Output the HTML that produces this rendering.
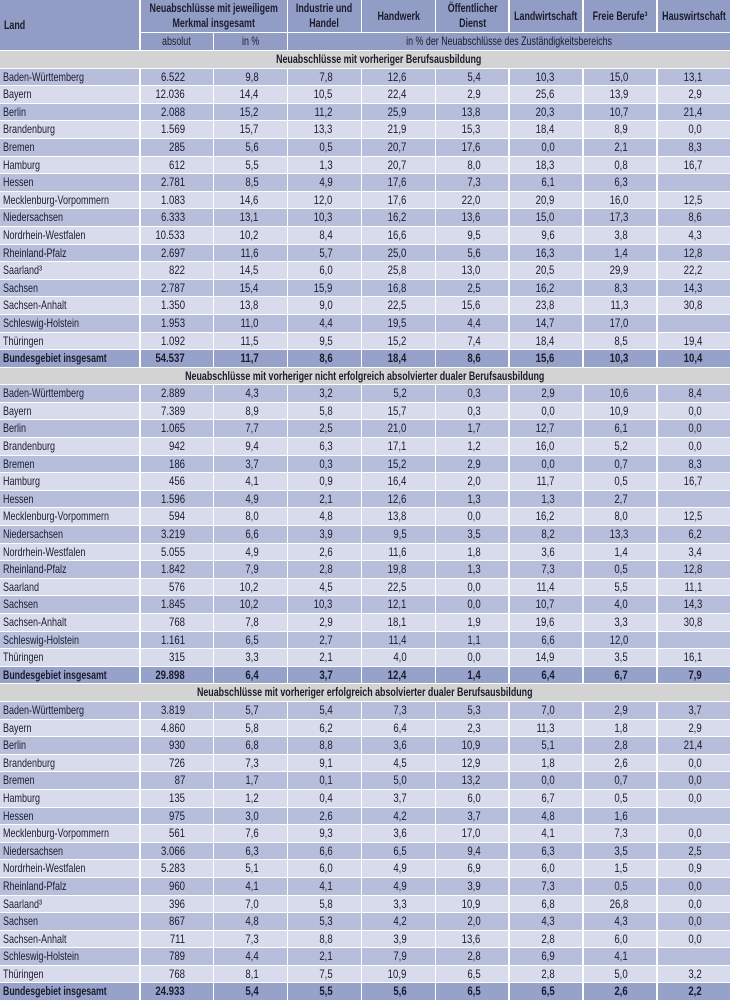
<!DOCTYPE html>
<html><head><meta charset="utf-8">
<style>
html,body{margin:0;padding:0;background:#fff;}
body{width:730px;height:1002px;overflow:hidden;position:relative;font-family:"Liberation Sans",Arial,sans-serif;color:#1b1b2a;}
.t{position:absolute;left:0;top:0;width:730px;height:1002px;display:grid;
grid-template-columns:139px repeat(8,72.375px);column-gap:1.5px;row-gap:1px;
grid-template-rows:32px 17px repeat(54,16.6px);background:#fff;}
.t>div,.r>div{box-sizing:border-box;}
.h{background:#929dc6;font-weight:bold;font-size:12px;line-height:15px;display:flex;align-items:center;justify-content:center;text-align:center;white-space:nowrap;}
.h span{display:inline-block;transform:scaleX(0.74);transform-origin:center center;}
.h.land{justify-content:flex-start;padding-left:4px;}
.h.land span{transform-origin:left center;}
.h2{font-weight:normal;}
.sec{grid-column:1/-1;background:#d3d3d3;font-weight:bold;font-size:12px;line-height:16.6px;text-align:center;white-space:nowrap;}
.sec span{display:inline-block;transform:scaleX(0.74);transform-origin:center center;}
.r{display:contents;}
.r>div{font-size:12px;line-height:16.6px;text-align:right;padding-right:28px;white-space:nowrap;}
.r>div>span{display:inline-block;transform:scaleX(0.8);transform-origin:right center;}
.r>div.lab{text-align:left;padding-left:3px;padding-right:0;}
.r>div.lab>span{transform:scaleX(0.75);transform-origin:left center;}
.r.d>div{background:#b7bedb;}
.r.l>div{background:#d8dbec;}
.r.s>div{background:#97a2cb;font-weight:bold;}
.r.s>div.lab>span{transform:scaleX(0.73);}
</style></head><body>
<div class="t">
<div class="h land" style="grid-column:1;grid-row:1/3"><span>Land</span></div>
<div class="h" style="grid-column:2/4;grid-row:1"><span>Neuabschlüsse mit jeweiligem<br>Merkmal insgesamt</span></div>
<div class="h" style="grid-column:4;grid-row:1"><span>Industrie und<br>Handel</span></div>
<div class="h" style="grid-column:5;grid-row:1"><span>Handwerk</span></div>
<div class="h" style="grid-column:6;grid-row:1"><span>Öffentlicher<br>Dienst</span></div>
<div class="h" style="grid-column:7;grid-row:1"><span>Landwirtschaft</span></div>
<div class="h" style="grid-column:8;grid-row:1"><span>Freie Berufe³</span></div>
<div class="h" style="grid-column:9;grid-row:1"><span>Hauswirtschaft</span></div>
<div class="h h2" style="grid-column:2;grid-row:2"><span>absolut</span></div>
<div class="h h2" style="grid-column:3;grid-row:2"><span>in %</span></div>
<div class="h h2" style="grid-column:4/10;grid-row:2"><span>in % der Neuabschlüsse des Zuständigkeitsbereichs</span></div>

<div class="sec" style="padding-left:27px"><span>Neuabschlüsse mit vorheriger Berufsausbildung</span></div>
<div class="r d"><div class="lab"><span>Baden-Württemberg</span></div><div><span>6.522</span></div><div><span>9,8</span></div><div><span>7,8</span></div><div><span>12,6</span></div><div><span>5,4</span></div><div><span>10,3</span></div><div><span>15,0</span></div><div><span>13,1</span></div></div>
<div class="r l"><div class="lab"><span>Bayern</span></div><div><span>12.036</span></div><div><span>14,4</span></div><div><span>10,5</span></div><div><span>22,4</span></div><div><span>2,9</span></div><div><span>25,6</span></div><div><span>13,9</span></div><div><span>2,9</span></div></div>
<div class="r d"><div class="lab"><span>Berlin</span></div><div><span>2.088</span></div><div><span>15,2</span></div><div><span>11,2</span></div><div><span>25,9</span></div><div><span>13,8</span></div><div><span>20,3</span></div><div><span>10,7</span></div><div><span>21,4</span></div></div>
<div class="r l"><div class="lab"><span>Brandenburg</span></div><div><span>1.569</span></div><div><span>15,7</span></div><div><span>13,3</span></div><div><span>21,9</span></div><div><span>15,3</span></div><div><span>18,4</span></div><div><span>8,9</span></div><div><span>0,0</span></div></div>
<div class="r d"><div class="lab"><span>Bremen</span></div><div><span>285</span></div><div><span>5,6</span></div><div><span>0,5</span></div><div><span>20,7</span></div><div><span>17,6</span></div><div><span>0,0</span></div><div><span>2,1</span></div><div><span>8,3</span></div></div>
<div class="r l"><div class="lab"><span>Hamburg</span></div><div><span>612</span></div><div><span>5,5</span></div><div><span>1,3</span></div><div><span>20,7</span></div><div><span>8,0</span></div><div><span>18,3</span></div><div><span>0,8</span></div><div><span>16,7</span></div></div>
<div class="r d"><div class="lab"><span>Hessen</span></div><div><span>2.781</span></div><div><span>8,5</span></div><div><span>4,9</span></div><div><span>17,6</span></div><div><span>7,3</span></div><div><span>6,1</span></div><div><span>6,3</span></div><div></div></div>
<div class="r l"><div class="lab"><span>Mecklenburg-Vorpommern</span></div><div><span>1.083</span></div><div><span>14,6</span></div><div><span>12,0</span></div><div><span>17,6</span></div><div><span>22,0</span></div><div><span>20,9</span></div><div><span>16,0</span></div><div><span>12,5</span></div></div>
<div class="r d"><div class="lab"><span>Niedersachsen</span></div><div><span>6.333</span></div><div><span>13,1</span></div><div><span>10,3</span></div><div><span>16,2</span></div><div><span>13,6</span></div><div><span>15,0</span></div><div><span>17,3</span></div><div><span>8,6</span></div></div>
<div class="r l"><div class="lab"><span>Nordrhein-Westfalen</span></div><div><span>10.533</span></div><div><span>10,2</span></div><div><span>8,4</span></div><div><span>16,6</span></div><div><span>9,5</span></div><div><span>9,6</span></div><div><span>3,8</span></div><div><span>4,3</span></div></div>
<div class="r d"><div class="lab"><span>Rheinland-Pfalz</span></div><div><span>2.697</span></div><div><span>11,6</span></div><div><span>5,7</span></div><div><span>25,0</span></div><div><span>5,6</span></div><div><span>16,3</span></div><div><span>1,4</span></div><div><span>12,8</span></div></div>
<div class="r l"><div class="lab"><span>Saarland³</span></div><div><span>822</span></div><div><span>14,5</span></div><div><span>6,0</span></div><div><span>25,8</span></div><div><span>13,0</span></div><div><span>20,5</span></div><div><span>29,9</span></div><div><span>22,2</span></div></div>
<div class="r d"><div class="lab"><span>Sachsen</span></div><div><span>2.787</span></div><div><span>15,4</span></div><div><span>15,9</span></div><div><span>16,8</span></div><div><span>2,5</span></div><div><span>16,2</span></div><div><span>8,3</span></div><div><span>14,3</span></div></div>
<div class="r l"><div class="lab"><span>Sachsen-Anhalt</span></div><div><span>1.350</span></div><div><span>13,8</span></div><div><span>9,0</span></div><div><span>22,5</span></div><div><span>15,6</span></div><div><span>23,8</span></div><div><span>11,3</span></div><div><span>30,8</span></div></div>
<div class="r d"><div class="lab"><span>Schleswig-Holstein</span></div><div><span>1.953</span></div><div><span>11,0</span></div><div><span>4,4</span></div><div><span>19,5</span></div><div><span>4,4</span></div><div><span>14,7</span></div><div><span>17,0</span></div><div></div></div>
<div class="r l"><div class="lab"><span>Thüringen</span></div><div><span>1.092</span></div><div><span>11,5</span></div><div><span>9,5</span></div><div><span>15,2</span></div><div><span>7,4</span></div><div><span>18,4</span></div><div><span>8,5</span></div><div><span>19,4</span></div></div>
<div class="r s"><div class="lab"><span>Bundesgebiet insgesamt</span></div><div><span>54.537</span></div><div><span>11,7</span></div><div><span>8,6</span></div><div><span>18,4</span></div><div><span>8,6</span></div><div><span>15,6</span></div><div><span>10,3</span></div><div><span>10,4</span></div></div>

<div class="sec"><span>Neuabschlüsse mit vorheriger nicht erfolgreich absolvierter dualer Berufsausbildung</span></div>
<div class="r d"><div class="lab"><span>Baden-Württemberg</span></div><div><span>2.889</span></div><div><span>4,3</span></div><div><span>3,2</span></div><div><span>5,2</span></div><div><span>0,3</span></div><div><span>2,9</span></div><div><span>10,6</span></div><div><span>8,4</span></div></div>
<div class="r l"><div class="lab"><span>Bayern</span></div><div><span>7.389</span></div><div><span>8,9</span></div><div><span>5,8</span></div><div><span>15,7</span></div><div><span>0,3</span></div><div><span>0,0</span></div><div><span>10,9</span></div><div><span>0,0</span></div></div>
<div class="r d"><div class="lab"><span>Berlin</span></div><div><span>1.065</span></div><div><span>7,7</span></div><div><span>2,5</span></div><div><span>21,0</span></div><div><span>1,7</span></div><div><span>12,7</span></div><div><span>6,1</span></div><div><span>0,0</span></div></div>
<div class="r l"><div class="lab"><span>Brandenburg</span></div><div><span>942</span></div><div><span>9,4</span></div><div><span>6,3</span></div><div><span>17,1</span></div><div><span>1,2</span></div><div><span>16,0</span></div><div><span>5,2</span></div><div><span>0,0</span></div></div>
<div class="r d"><div class="lab"><span>Bremen</span></div><div><span>186</span></div><div><span>3,7</span></div><div><span>0,3</span></div><div><span>15,2</span></div><div><span>2,9</span></div><div><span>0,0</span></div><div><span>0,7</span></div><div><span>8,3</span></div></div>
<div class="r l"><div class="lab"><span>Hamburg</span></div><div><span>456</span></div><div><span>4,1</span></div><div><span>0,9</span></div><div><span>16,4</span></div><div><span>2,0</span></div><div><span>11,7</span></div><div><span>0,5</span></div><div><span>16,7</span></div></div>
<div class="r d"><div class="lab"><span>Hessen</span></div><div><span>1.596</span></div><div><span>4,9</span></div><div><span>2,1</span></div><div><span>12,6</span></div><div><span>1,3</span></div><div><span>1,3</span></div><div><span>2,7</span></div><div></div></div>
<div class="r l"><div class="lab"><span>Mecklenburg-Vorpommern</span></div><div><span>594</span></div><div><span>8,0</span></div><div><span>4,8</span></div><div><span>13,8</span></div><div><span>0,0</span></div><div><span>16,2</span></div><div><span>8,0</span></div><div><span>12,5</span></div></div>
<div class="r d"><div class="lab"><span>Niedersachsen</span></div><div><span>3.219</span></div><div><span>6,6</span></div><div><span>3,9</span></div><div><span>9,5</span></div><div><span>3,5</span></div><div><span>8,2</span></div><div><span>13,3</span></div><div><span>6,2</span></div></div>
<div class="r l"><div class="lab"><span>Nordrhein-Westfalen</span></div><div><span>5.055</span></div><div><span>4,9</span></div><div><span>2,6</span></div><div><span>11,6</span></div><div><span>1,8</span></div><div><span>3,6</span></div><div><span>1,4</span></div><div><span>3,4</span></div></div>
<div class="r d"><div class="lab"><span>Rheinland-Pfalz</span></div><div><span>1.842</span></div><div><span>7,9</span></div><div><span>2,8</span></div><div><span>19,8</span></div><div><span>1,3</span></div><div><span>7,3</span></div><div><span>0,5</span></div><div><span>12,8</span></div></div>
<div class="r l"><div class="lab"><span>Saarland</span></div><div><span>576</span></div><div><span>10,2</span></div><div><span>4,5</span></div><div><span>22,5</span></div><div><span>0,0</span></div><div><span>11,4</span></div><div><span>5,5</span></div><div><span>11,1</span></div></div>
<div class="r d"><div class="lab"><span>Sachsen</span></div><div><span>1.845</span></div><div><span>10,2</span></div><div><span>10,3</span></div><div><span>12,1</span></div><div><span>0,0</span></div><div><span>10,7</span></div><div><span>4,0</span></div><div><span>14,3</span></div></div>
<div class="r l"><div class="lab"><span>Sachsen-Anhalt</span></div><div><span>768</span></div><div><span>7,8</span></div><div><span>2,9</span></div><div><span>18,1</span></div><div><span>1,9</span></div><div><span>19,6</span></div><div><span>3,3</span></div><div><span>30,8</span></div></div>
<div class="r d"><div class="lab"><span>Schleswig-Holstein</span></div><div><span>1.161</span></div><div><span>6,5</span></div><div><span>2,7</span></div><div><span>11,4</span></div><div><span>1,1</span></div><div><span>6,6</span></div><div><span>12,0</span></div><div></div></div>
<div class="r l"><div class="lab"><span>Thüringen</span></div><div><span>315</span></div><div><span>3,3</span></div><div><span>2,1</span></div><div><span>4,0</span></div><div><span>0,0</span></div><div><span>14,9</span></div><div><span>3,5</span></div><div><span>16,1</span></div></div>
<div class="r s"><div class="lab"><span>Bundesgebiet insgesamt</span></div><div><span>29.898</span></div><div><span>6,4</span></div><div><span>3,7</span></div><div><span>12,4</span></div><div><span>1,4</span></div><div><span>6,4</span></div><div><span>6,7</span></div><div><span>7,9</span></div></div>

<div class="sec"><span>Neuabschlüsse mit vorheriger erfolgreich absolvierter dualer Berufsausbildung</span></div>
<div class="r d"><div class="lab"><span>Baden-Württemberg</span></div><div><span>3.819</span></div><div><span>5,7</span></div><div><span>5,4</span></div><div><span>7,3</span></div><div><span>5,3</span></div><div><span>7,0</span></div><div><span>2,9</span></div><div><span>3,7</span></div></div>
<div class="r l"><div class="lab"><span>Bayern</span></div><div><span>4.860</span></div><div><span>5,8</span></div><div><span>6,2</span></div><div><span>6,4</span></div><div><span>2,3</span></div><div><span>11,3</span></div><div><span>1,8</span></div><div><span>2,9</span></div></div>
<div class="r d"><div class="lab"><span>Berlin</span></div><div><span>930</span></div><div><span>6,8</span></div><div><span>8,8</span></div><div><span>3,6</span></div><div><span>10,9</span></div><div><span>5,1</span></div><div><span>2,8</span></div><div><span>21,4</span></div></div>
<div class="r l"><div class="lab"><span>Brandenburg</span></div><div><span>726</span></div><div><span>7,3</span></div><div><span>9,1</span></div><div><span>4,5</span></div><div><span>12,9</span></div><div><span>1,8</span></div><div><span>2,6</span></div><div><span>0,0</span></div></div>
<div class="r d"><div class="lab"><span>Bremen</span></div><div><span>87</span></div><div><span>1,7</span></div><div><span>0,1</span></div><div><span>5,0</span></div><div><span>13,2</span></div><div><span>0,0</span></div><div><span>0,7</span></div><div><span>0,0</span></div></div>
<div class="r l"><div class="lab"><span>Hamburg</span></div><div><span>135</span></div><div><span>1,2</span></div><div><span>0,4</span></div><div><span>3,7</span></div><div><span>6,0</span></div><div><span>6,7</span></div><div><span>0,5</span></div><div><span>0,0</span></div></div>
<div class="r d"><div class="lab"><span>Hessen</span></div><div><span>975</span></div><div><span>3,0</span></div><div><span>2,6</span></div><div><span>4,2</span></div><div><span>3,7</span></div><div><span>4,8</span></div><div><span>1,6</span></div><div></div></div>
<div class="r l"><div class="lab"><span>Mecklenburg-Vorpommern</span></div><div><span>561</span></div><div><span>7,6</span></div><div><span>9,3</span></div><div><span>3,6</span></div><div><span>17,0</span></div><div><span>4,1</span></div><div><span>7,3</span></div><div><span>0,0</span></div></div>
<div class="r d"><div class="lab"><span>Niedersachsen</span></div><div><span>3.066</span></div><div><span>6,3</span></div><div><span>6,6</span></div><div><span>6,5</span></div><div><span>9,4</span></div><div><span>6,3</span></div><div><span>3,5</span></div><div><span>2,5</span></div></div>
<div class="r l"><div class="lab"><span>Nordrhein-Westfalen</span></div><div><span>5.283</span></div><div><span>5,1</span></div><div><span>6,0</span></div><div><span>4,9</span></div><div><span>6,9</span></div><div><span>6,0</span></div><div><span>1,5</span></div><div><span>0,9</span></div></div>
<div class="r d"><div class="lab"><span>Rheinland-Pfalz</span></div><div><span>960</span></div><div><span>4,1</span></div><div><span>4,1</span></div><div><span>4,9</span></div><div><span>3,9</span></div><div><span>7,3</span></div><div><span>0,5</span></div><div><span>0,0</span></div></div>
<div class="r l"><div class="lab"><span>Saarland³</span></div><div><span>396</span></div><div><span>7,0</span></div><div><span>5,8</span></div><div><span>3,3</span></div><div><span>10,9</span></div><div><span>6,8</span></div><div><span>26,8</span></div><div><span>0,0</span></div></div>
<div class="r d"><div class="lab"><span>Sachsen</span></div><div><span>867</span></div><div><span>4,8</span></div><div><span>5,3</span></div><div><span>4,2</span></div><div><span>2,0</span></div><div><span>4,3</span></div><div><span>4,3</span></div><div><span>0,0</span></div></div>
<div class="r l"><div class="lab"><span>Sachsen-Anhalt</span></div><div><span>711</span></div><div><span>7,3</span></div><div><span>8,8</span></div><div><span>3,9</span></div><div><span>13,6</span></div><div><span>2,8</span></div><div><span>6,0</span></div><div><span>0,0</span></div></div>
<div class="r d"><div class="lab"><span>Schleswig-Holstein</span></div><div><span>789</span></div><div><span>4,4</span></div><div><span>2,1</span></div><div><span>7,9</span></div><div><span>2,8</span></div><div><span>6,9</span></div><div><span>4,1</span></div><div></div></div>
<div class="r l"><div class="lab"><span>Thüringen</span></div><div><span>768</span></div><div><span>8,1</span></div><div><span>7,5</span></div><div><span>10,9</span></div><div><span>6,5</span></div><div><span>2,8</span></div><div><span>5,0</span></div><div><span>3,2</span></div></div>
<div class="r s"><div class="lab"><span>Bundesgebiet insgesamt</span></div><div><span>24.933</span></div><div><span>5,4</span></div><div><span>5,5</span></div><div><span>5,6</span></div><div><span>6,5</span></div><div><span>6,5</span></div><div><span>2,6</span></div><div><span>2,2</span></div></div>
</div>
</body></html>
